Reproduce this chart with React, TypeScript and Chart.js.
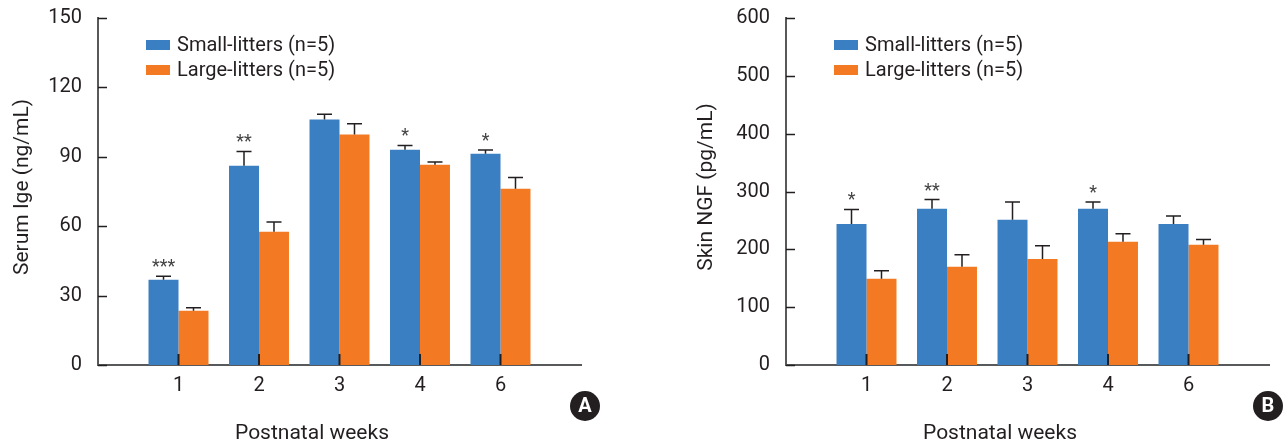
import React, { useEffect, useRef } from 'react';
import { Chart, registerables } from 'chart.js';

Chart.register(...registerables);

const weeks = ['1', '2', '3', '4', '6'];
const seriesNames = ['Small-litters (n=5)', 'Large-litters (n=5)'];

const igeSmall = [36.8, 86.1, 106.1, 93.1, 91.3];
const igeSmallErr = [1.6, 6.2, 2.3, 1.8, 1.6];
const igeLarge = [23.4, 57.6, 99.6, 86.6, 76.2];
const igeLargeErr = [1.3, 4.2, 4.7, 1.1, 4.9];
const igeStars = ['***', '**', '', '*', '*'];
const igeTicks = [0, 30, 60, 90, 120, 150];

const ngfSmall = [244, 270, 251, 270, 244];
const ngfSmallErr = [25, 16, 31, 12, 13.5];
const ngfLarge = [149, 170, 183.5, 213, 208];
const ngfLargeErr = [14, 20.5, 22.5, 14, 9];
const ngfStars = ['*', '**', '', '*', ''];
const ngfTicks = [0, 100, 200, 300, 400, 500, 600];

const BLUE = '#3A7FC2';
const ORANGE = '#F37A22';
const INK = '#231F20';
const AXIS = '#58595B';
const FONT = '"Liberation Sans Narrow", "Arial Narrow", Roboto, sans-serif';

type PanelProps = {
  small: number[];
  smallErr: number[];
  large: number[];
  largeErr: number[];
  stars: string[];
  ticks: number[];
  yTitle: string;
  yTitleX: number;
  badge: string;
  badgeX: number;
};

function Panel(p: PanelProps) {
  const ref = useRef<HTMLCanvasElement | null>(null);
  useEffect(() => {
    if (!ref.current) return;
    const labels = ['', ...weeks, ''];
    const pad = (a: number[]) => [null, ...a, null];
    const yMax = p.ticks[p.ticks.length - 1];
    const step = p.ticks[1] - p.ticks[0];
    const series = [p.small, p.large];
    const errs = [p.smallErr, p.largeErr];

    const overlay = {
      id: 'overlay',
      afterDatasetsDraw(chart: any) {
        const ctx = chart.ctx as CanvasRenderingContext2D;
        const xs = chart.scales.x;
        const ys = chart.scales.y;
        const area = chart.chartArea;
        ctx.save();
        // error bars + stars
        [0, 1].forEach((di) => {
          const meta = chart.getDatasetMeta(di);
          meta.data.forEach((bar: any, i: number) => {
            const idx = i - 1;
            if (idx < 0 || idx >= weeks.length) return;
            const v = series[di][idx];
            const e = errs[di][idx];
            const cx = bar.x;
            const base = ys.getPixelForValue(v);
            const top = ys.getPixelForValue(v + e);
            ctx.strokeStyle = INK;
            ctx.lineWidth = 1.5;
            ctx.beginPath();
            ctx.moveTo(cx, base);
            ctx.lineTo(cx, top);
            ctx.moveTo(cx - 7.5, top);
            ctx.lineTo(cx + 7.5, top);
            ctx.stroke();
            if (di === 0 && p.stars[idx]) {
              ctx.fillStyle = '#444';
              ctx.font = `18px ${FONT}`;
              ctx.textAlign = 'center';
              ctx.textBaseline = 'alphabetic';
              ctx.fillText(p.stars[idx], cx, top - 4);
            }
          });
        });
        // inner y ticks
        ctx.strokeStyle = INK;
        ctx.lineWidth = 1.5;
        p.ticks.forEach((t) => {
          const py = Math.round(ys.getPixelForValue(t)) + 0.5;
          ctx.beginPath();
          ctx.moveTo(area.left, py);
          ctx.lineTo(area.left + 9, py);
          ctx.stroke();
        });
        // inner x ticks
        ctx.lineWidth = 2;
        weeks.forEach((_, k) => {
          const px = xs.getPixelForValue(k + 1);
          ctx.beginPath();
          ctx.moveTo(px, area.bottom);
          ctx.lineTo(px, area.bottom - 11);
          ctx.stroke();
        });
        // legend
        const colors = [BLUE, ORANGE];
        seriesNames.forEach((name, k) => {
          const cy = 45 + k * 25;
          ctx.fillStyle = colors[k];
          ctx.fillRect(146, cy - 5, 24, 10);
          ctx.fillStyle = INK;
          ctx.font = `20px ${FONT}`;
          ctx.textAlign = 'left';
          ctx.textBaseline = 'middle';
          ctx.fillText(name, 177, cy + 1);
        });
        // x title
        ctx.fillStyle = INK;
        ctx.font = `21px ${FONT}`;
        ctx.textAlign = 'center';
        ctx.textBaseline = 'alphabetic';
        ctx.fillText('Postnatal weeks', 312, 439);
        // y title
        ctx.save();
        ctx.translate(p.yTitleX, 187);
        ctx.rotate(-Math.PI / 2);
        ctx.fillText(p.yTitle, 0, 0);
        ctx.restore();
        // badge
        ctx.fillStyle = INK;
        ctx.beginPath();
        ctx.arc(p.badgeX, 406, 15, 0, Math.PI * 2);
        ctx.fill();
        ctx.fillStyle = '#fff';
        ctx.font = `bold 20px ${FONT}`;
        ctx.textAlign = 'center';
        ctx.textBaseline = 'middle';
        ctx.fillText(p.badge, p.badgeX, 407);
        ctx.restore();
      },
    };

    const chart = new Chart(ref.current, {
      type: 'bar',
      data: {
        labels,
        datasets: [
          { label: seriesNames[0], data: pad(p.small) as any, backgroundColor: BLUE, categoryPercentage: 0.745, barPercentage: 1 },
          { label: seriesNames[1], data: pad(p.large) as any, backgroundColor: ORANGE, categoryPercentage: 0.745, barPercentage: 1 },
        ],
      },
      options: {
        responsive: false,
        animation: false,
        layout: { padding: { top: 18, right: 19, left: 0, bottom: 0 } },
        plugins: { legend: { display: false }, tooltip: { enabled: false } },
        scales: {
          x: {
            type: 'category',
            offset: false,
            grid: { display: false, drawTicks: false },
            border: { display: true, color: AXIS, width: 2 },
            ticks: { padding: 9, color: INK, font: { family: FONT, size: 20 }, autoSkip: false, maxRotation: 0 },
            afterFit: (s: any) => { s.height = 76; s.paddingLeft = 0; s.paddingRight = 0; },
          },
          y: {
            min: 0,
            max: yMax,
            grid: { display: false, drawTicks: false },
            border: { display: true, color: AXIS, width: 2 },
            ticks: { stepSize: step, padding: 16, color: INK, font: { family: FONT, size: 20 } },
            afterFit: (s: any) => { s.width = 98; s.paddingTop = 0; s.paddingBottom = 0; },
          },
        },
      },
      plugins: [overlay],
    });
    return () => chart.destroy();
  }, []);
  return <canvas ref={ref} width={600} height={441} style={{ display: 'block', width: 600, height: 441 }} />;
}

export default function App() {
  return (
    <div style={{ position: 'fixed', left: 0, top: 0, width: 1288, height: 441, background: '#fff', overflow: 'hidden' }}>
      <div style={{ position: 'absolute', left: 0, top: 0 }}>
        <Panel small={igeSmall} smallErr={igeSmallErr} large={igeLarge} largeErr={igeLargeErr} stars={igeStars}
          ticks={igeTicks} yTitle="Serum Ige (ng/mL)" yTitleX={28} badge="A" badgeX={585} />
      </div>
      <div style={{ position: 'absolute', left: 688, top: 0 }}>
        <Panel small={ngfSmall} smallErr={ngfSmallErr} large={ngfLarge} largeErr={ngfLargeErr} stars={ngfStars}
          ticks={ngfTicks} yTitle="Skin NGF (pg/mL)" yTitleX={24} badge="B" badgeX={580} />
      </div>
    </div>
  );
}
